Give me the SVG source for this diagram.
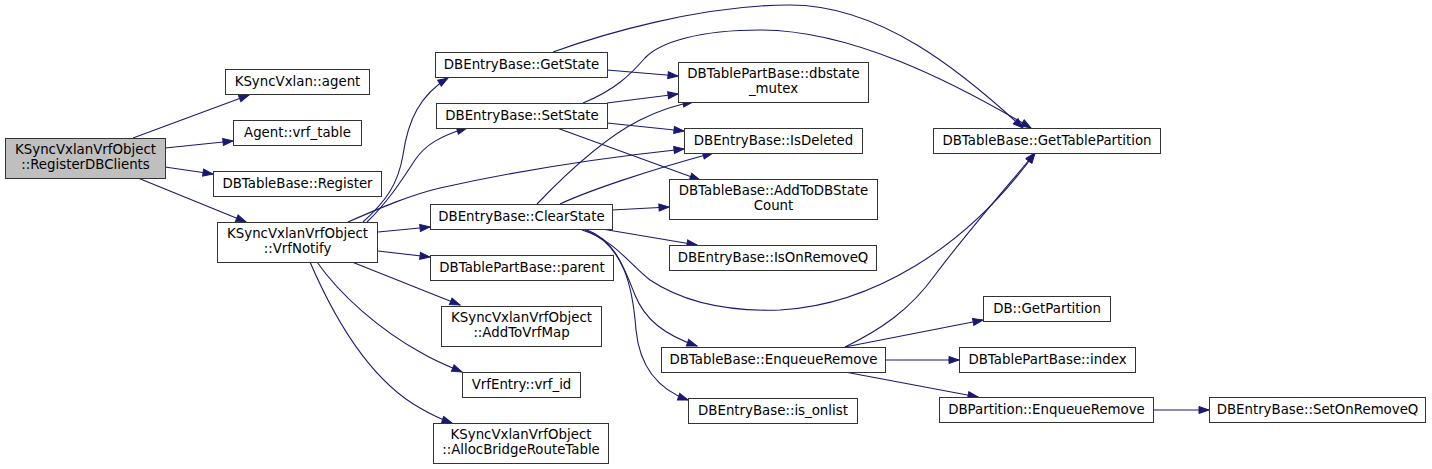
<svg xmlns="http://www.w3.org/2000/svg" width="1432" height="469" viewBox="0 0 1432 469">
<defs>
<marker id="ah" markerWidth="12" markerHeight="9" refX="10" refY="3.5" orient="auto" markerUnits="userSpaceOnUse" overflow="visible">
<path d="M0,0 L10,3.5 L0,7 z" fill="#191970" stroke="#191970" stroke-width="1"/>
</marker>
</defs>
<style>
.n rect{fill:#fff;stroke:#333;stroke-width:1}
.n.root rect{fill:#bfbfbf}
.n text{font-family:"DejaVu Sans","Liberation Sans",sans-serif;font-size:13.33px;fill:#000;text-anchor:middle}
#edges path{fill:none;stroke:#191970;stroke-width:1.1;marker-end:url(#ah)}
</style>
<rect width="1432" height="469" fill="#fff"/>
<g id="edges">
<path d="M133,138 L249,95"/>
<path d="M165,148 L233,141"/>
<path d="M165,167 L213,174"/>
<path d="M138,178 L246,222"/>
<path d="M363,222 C385,202 398,185 403,155 C408,120 420,95 448,78"/>
<path d="M367,222 C390,200 405,175 415,160 C425,145 440,136 467,128"/>
<path d="M348,222 C380,208 410,195 440,188 C520,170 600,158 684,149"/>
<path d="M378,232 L430,227"/>
<path d="M378,251 L430,257"/>
<path d="M352,262 L460,305"/>
<path d="M317,262 C340,295 380,330 420,352 C435,361 450,367 462,372"/>
<path d="M310,262 C335,320 370,380 420,408 C432,415 440,419 452,423"/>
<path d="M607,70 L678,76"/>
<path d="M553,52 C600,35 700,5 790,5 C880,5 960,70 1023,128"/>
<path d="M607,103 L678,94"/>
<path d="M607,123 L684,131"/>
<path d="M557,128 L700,180"/>
<path d="M583,103 C615,90 630,75 645,58 C660,42 700,30 760,30 C850,30 950,80 1031,128"/>
<path d="M537,204 C560,180 600,140 640,120 C660,110 675,105 693,102"/>
<path d="M560,204 C590,190 650,170 713,153"/>
<path d="M612,210 L669,207"/>
<path d="M602,229 L697,245"/>
<path d="M582,230 C615,240 630,265 650,280 C680,300 720,312 780,310 C870,305 965,250 1035,153"/>
<path d="M587,230 C615,240 625,270 635,295 C645,320 665,335 697,346"/>
<path d="M585,230 C625,245 633,290 636,330 C640,370 660,390 688,400"/>
<path d="M845,347 C880,330 910,310 935,275 C965,235 1000,195 1035,153"/>
<path d="M845,347 L983,320"/>
<path d="M885,360 L959,360"/>
<path d="M845,372 L978,397"/>
<path d="M1153,410 L1209,410"/>
</g>
<g id="n0" class="n root"><rect x="5.5" y="138.5" width="160" height="40"/><text x="85.5" y="154">KSyncVxlanVrfObject</text><text x="85.5" y="169">::RegisterDBClients</text></g>
<g id="n1" class="n"><rect x="225.5" y="69.5" width="144" height="25"/><text x="297.5" y="86">KSyncVxlan::agent</text></g>
<g id="n2" class="n"><rect x="233.5" y="120.5" width="128" height="25"/><text x="297.5" y="137">Agent::vrf_table</text></g>
<g id="n3" class="n"><rect x="213.5" y="171.5" width="168" height="25"/><text x="297.5" y="188">DBTableBase::Register</text></g>
<g id="n4" class="n"><rect x="217.5" y="222.5" width="160" height="40"/><text x="297.5" y="238">KSyncVxlanVrfObject</text><text x="297.5" y="253">::VrfNotify</text></g>
<g id="n5" class="n"><rect x="435.5" y="52.5" width="172" height="25"/><text x="521.5" y="69">DBEntryBase::GetState</text></g>
<g id="n6" class="n"><rect x="436.5" y="103.5" width="171" height="25"/><text x="522" y="120">DBEntryBase::SetState</text></g>
<g id="n7" class="n"><rect x="430.5" y="204.5" width="182" height="25"/><text x="521.5" y="221">DBEntryBase::ClearState</text></g>
<g id="n8" class="n"><rect x="430.5" y="255.5" width="183" height="25"/><text x="522" y="272">DBTablePartBase::parent</text></g>
<g id="n9" class="n"><rect x="441.5" y="306.5" width="160" height="40"/><text x="521.5" y="322">KSyncVxlanVrfObject</text><text x="521.5" y="337">::AddToVrfMap</text></g>
<g id="n10" class="n"><rect x="462.5" y="372.5" width="118" height="25"/><text x="521.5" y="389">VrfEntry::vrf_id</text></g>
<g id="n11" class="n"><rect x="433.5" y="423.5" width="175" height="40"/><text x="521" y="439">KSyncVxlanVrfObject</text><text x="521" y="454">::AllocBridgeRouteTable</text></g>
<g id="n12" class="n"><rect x="678.5" y="62.5" width="190" height="40"/><text x="773.5" y="78">DBTablePartBase::dbstate</text><text x="773.5" y="93">_mutex</text></g>
<g id="n13" class="n"><rect x="684.5" y="128.5" width="178" height="25"/><text x="773.5" y="145">DBEntryBase::IsDeleted</text></g>
<g id="n14" class="n"><rect x="669.5" y="179.5" width="208" height="40"/><text x="773.5" y="195">DBTableBase::AddToDBState</text><text x="773.5" y="210">Count</text></g>
<g id="n15" class="n"><rect x="669.5" y="245.5" width="207" height="25"/><text x="773" y="262">DBEntryBase::IsOnRemoveQ</text></g>
<g id="n16" class="n"><rect x="661.5" y="347.5" width="224" height="25"/><text x="773.5" y="364">DBTableBase::EnqueueRemove</text></g>
<g id="n17" class="n"><rect x="688.5" y="398.5" width="169" height="25"/><text x="773" y="415">DBEntryBase::is_onlist</text></g>
<g id="n18" class="n"><rect x="933.5" y="128.5" width="227" height="25"/><text x="1047" y="145">DBTableBase::GetTablePartition</text></g>
<g id="n19" class="n"><rect x="983.5" y="296.5" width="127" height="25"/><text x="1047" y="313">DB::GetPartition</text></g>
<g id="n20" class="n"><rect x="959.5" y="347.5" width="176" height="25"/><text x="1047.5" y="364">DBTablePartBase::index</text></g>
<g id="n21" class="n"><rect x="939.5" y="397.5" width="214" height="25"/><text x="1046.5" y="414">DBPartition::EnqueueRemove</text></g>
<g id="n22" class="n"><rect x="1209.5" y="397.5" width="216" height="25"/><text x="1317.5" y="414">DBEntryBase::SetOnRemoveQ</text></g>
</svg>
